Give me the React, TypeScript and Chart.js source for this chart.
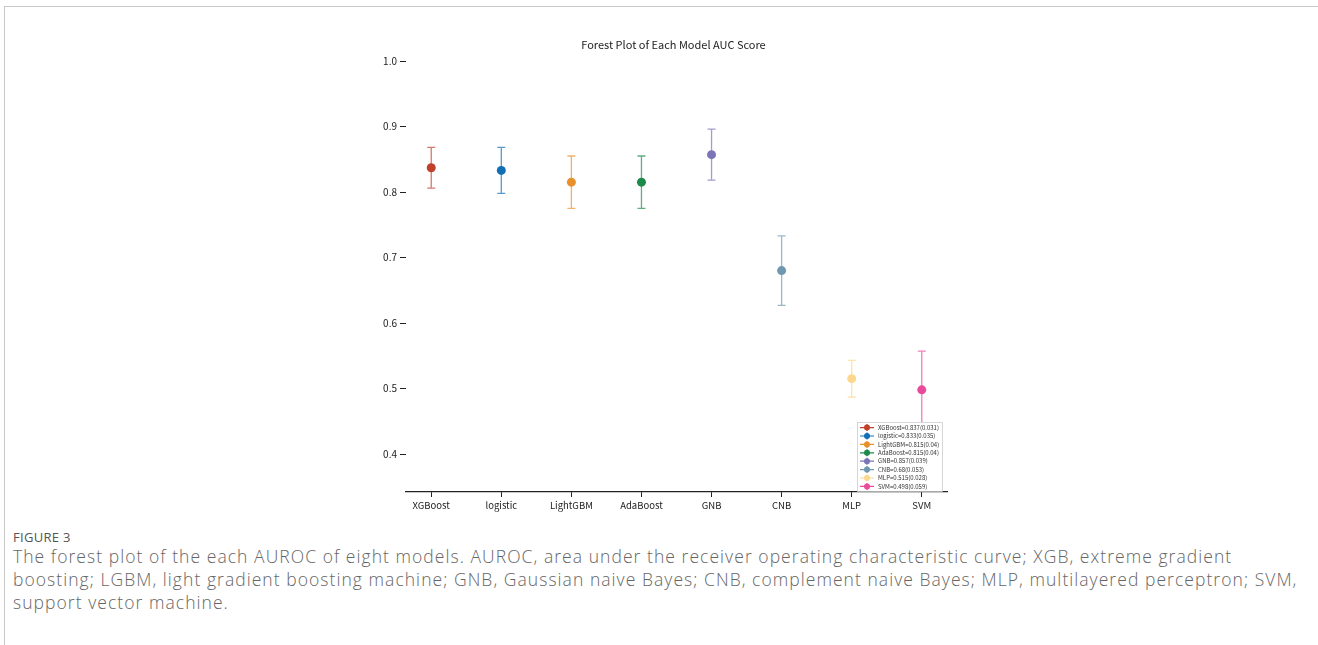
import React, { useEffect, useRef } from "react";
import { Chart, registerables } from "chart.js";

Chart.register(...registerables);

const models = ["XGBoost", "logistic", "LightGBM", "AdaBoost", "GNB", "CNB", "MLP", "SVM"];
const aucValues = [0.837, 0.833, 0.815, 0.815, 0.857, 0.68, 0.515, 0.498];
const ciHalfWidths = [0.031, 0.035, 0.04, 0.04, 0.039, 0.053, 0.028, 0.059];
const legendLabels = [
  "XGBoost=0.837(0.031)",
  "logistic=0.833(0.035)",
  "LightGBM=0.815(0.04)",
  "AdaBoost=0.815(0.04)",
  "GNB=0.857(0.039)",
  "CNB=0.68(0.053)",
  "MLP=0.515(0.028)",
  "SVM=0.498(0.059)",
];
const colors = ["#c0402c", "#1170b5", "#e8912c", "#1b8a4a", "#7b74b6", "#6f98b0", "#fcd88f", "#e94a9a"];
const yTicks = [0.4, 0.5, 0.6, 0.7, 0.8, 0.9, 1.0];
const titleText = "Forest Plot of Each Model AUC Score";

const FONT = "'Noto Sans CJK SC', 'Noto Sans', sans-serif";

function withAlpha(hex: string, a: number) {
  const r = parseInt(hex.slice(1, 3), 16);
  const g = parseInt(hex.slice(3, 5), 16);
  const b = parseInt(hex.slice(5, 7), 16);
  return `rgba(${r},${g},${b},${a})`;
}

const forestPlugin = {
  id: "forest",
  beforeDatasetsDraw(chart: any) {
    const { ctx, scales } = chart;
    const x = scales.x;
    const y = scales.y;
    models.forEach((_, i) => {
      const px = x.getPixelForValue(i);
      const lo = y.getPixelForValue(aucValues[i] - ciHalfWidths[i]);
      const hi = y.getPixelForValue(aucValues[i] + ciHalfWidths[i]);
      ctx.save();
      ctx.strokeStyle = withAlpha(colors[i], 0.7);
      ctx.lineWidth = 1.3;
      ctx.beginPath();
      ctx.moveTo(px, lo);
      ctx.lineTo(px, hi);
      ctx.moveTo(px - 4, lo);
      ctx.lineTo(px + 4, lo);
      ctx.moveTo(px - 4, hi);
      ctx.lineTo(px + 4, hi);
      ctx.stroke();
      ctx.restore();
    });
  },
  afterDatasetsDraw(chart: any) {
    const { ctx, chartArea } = chart;
    const w = 85;
    const h = 69;
    const right = chartArea.right - 5;
    const bottom = chartArea.bottom - 1;
    const left = right - w;
    const top = bottom - h;
    ctx.save();
    ctx.fillStyle = "#ffffff";
    ctx.strokeStyle = "#cccccc";
    ctx.lineWidth = 0.8;
    ctx.fillRect(left, top, w, h);
    ctx.strokeRect(left + 0.5, top + 0.5, w, h);
    legendLabels.forEach((lab, i) => {
      const cy = top + 5.6 + i * 8.4;
      const cx = left + 10;
      ctx.strokeStyle = colors[i];
      ctx.lineWidth = 1.2;
      ctx.beginPath();
      ctx.moveTo(left + 3, cy);
      ctx.lineTo(left + 17, cy);
      ctx.moveTo(cx, cy - 3.5);
      ctx.lineTo(cx, cy + 3.5);
      ctx.stroke();
      ctx.fillStyle = colors[i];
      ctx.beginPath();
      ctx.arc(cx, cy, 3, 0, Math.PI * 2);
      ctx.fill();
      ctx.fillStyle = "#333333";
      ctx.font = `6px ${FONT}`;
      ctx.textBaseline = "middle";
      ctx.textAlign = "left";
      ctx.fillText(lab, left + 21, cy);
    });
    ctx.restore();
  },
  afterDraw(chart: any) {
    const { ctx, chartArea } = chart;
    ctx.save();
    ctx.fillStyle = "#222222";
    ctx.font = `11px ${FONT}`;
    ctx.textAlign = "center";
    ctx.textBaseline = "middle";
    ctx.fillText(titleText, (chartArea.left + chartArea.right) / 2 - 3, chartArea.top - 16);
    ctx.restore();
  },
};

function ForestChart() {
  const ref = useRef<HTMLCanvasElement | null>(null);
  useEffect(() => {
    if (!ref.current) return;
    const chart = new Chart(ref.current, {
      type: "scatter",
      data: {
        datasets: models.map((m, i) => ({
          label: m,
          data: [{ x: i, y: aucValues[i] }],
          backgroundColor: colors[i],
          borderColor: colors[i],
          borderWidth: 0,
          pointRadius: 4.5,
          pointHoverRadius: 4.5,
        })),
      },
      options: {
        responsive: false,
        animation: false,
        events: [],
        layout: { padding: { top: 41, right: 53, bottom: 0, left: 0 } },
        plugins: {
          legend: { display: false },
          title: { display: false },
          tooltip: { enabled: false },
        },
        scales: {
          x: {
            type: "linear",
            min: -0.36,
            max: 7.36,
            afterBuildTicks: (scale: any) => {
              scale.ticks = models.map((_, i) => ({ value: i }));
            },
            afterFit: (scale: any) => {
              scale.height = 28;
            },
            ticks: {
              autoSkip: false,
              maxRotation: 0,
              minRotation: 0,
              padding: 3,
              color: "#222222",
              font: { family: FONT, size: 9.5 },
              callback: (v: any) => models[Math.round(Number(v))] ?? "",
            },
            grid: {
              drawOnChartArea: false,
              drawTicks: true,
              tickLength: 5,
              color: "#222222",
              lineWidth: 1,
            },
            border: { display: true, color: "#222222", width: 1.2 },
          },
          y: {
            type: "linear",
            min: 0.342,
            max: 1.0,
            afterBuildTicks: (scale: any) => {
              scale.ticks = yTicks.map((v) => ({ value: v }));
            },
            afterFit: (scale: any) => {
              scale.width = 106;
            },
            ticks: {
              padding: 3,
              color: "#222222",
              font: { family: FONT, size: 10 },
              callback: (v: any) => Number(v).toFixed(1),
            },
            grid: {
              drawOnChartArea: false,
              drawTicks: true,
              tickLength: 6,
              color: "#222222",
              lineWidth: 1,
            },
            border: { display: false },
          },
        },
      },
      plugins: [forestPlugin],
    } as any);
    return () => chart.destroy();
  }, []);
  return (
    <canvas
      ref={ref}
      width={700}
      height={500}
      style={{ position: "absolute", left: 300, top: 20, width: 700, height: 500 }}
    />
  );
}

export default function App() {
  return (
    <div
      style={{
        position: "absolute",
        left: 0,
        top: 0,
        width: 1318,
        height: 645,
        background: "#ffffff",
        overflow: "hidden",
      }}
    >
      <div style={{ position: "absolute", left: 4, top: 6, right: 0, height: 1, background: "#c8c8c8" }} />
      <div style={{ position: "absolute", left: 4, top: 6, width: 1, bottom: 0, background: "#c8c8c8" }} />
      <ForestChart />
      <div
        style={{
          position: "absolute",
          left: 13,
          top: 528,
          fontFamily: "'Open Sans', sans-serif",
          fontSize: 13,
          color: "#555555",
          letterSpacing: 0.3,
        }}
      >
        FIGURE 3
      </div>
      <div
        style={{
          position: "absolute",
          left: 13,
          top: 545,
          width: 1305,
          fontFamily: "'Open Sans', sans-serif",
          fontSize: 17.5,
          fontWeight: 300,
          lineHeight: "23px",
          letterSpacing: 1.05,
          color: "#666666",
          whiteSpace: "nowrap",
        }}
      >
        The forest plot of the each AUROC of eight models. AUROC, area under the receiver operating characteristic curve; XGB, extreme gradient
        <br />
        boosting; LGBM, light gradient boosting machine; GNB, Gaussian naive Bayes; CNB, complement naive Bayes; MLP, multilayered perceptron; SVM,
        <br />
        support vector machine.
      </div>
    </div>
  );
}
